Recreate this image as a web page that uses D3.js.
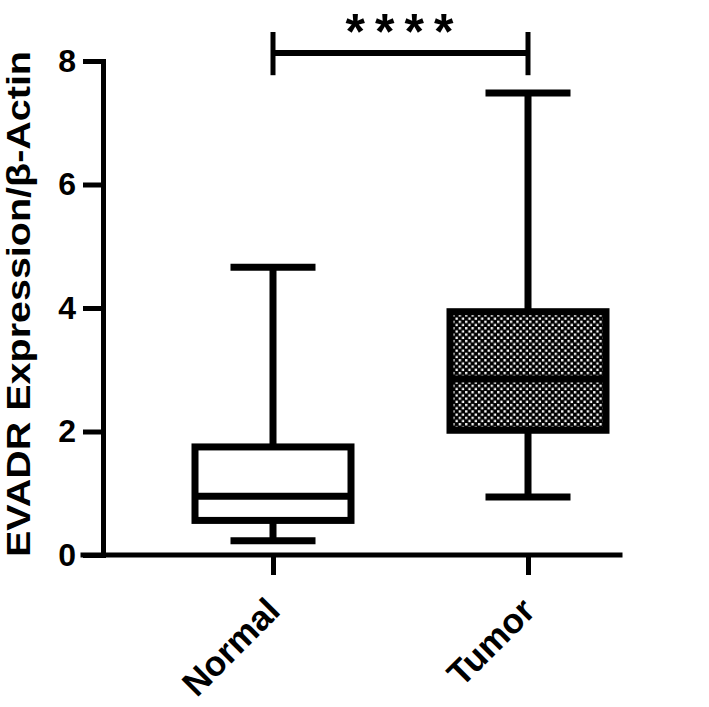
<!DOCTYPE html>
<html>
<head>
<meta charset="utf-8">
<script src="https://cdn.jsdelivr.net/npm/d3@7"></script>
<style>
  body { margin: 0; background: #fff; }
  svg { display: block; font-family: "Liberation Sans", Arial, sans-serif; font-weight: bold; }
</style>
</head>
<body>
<script>
// box plot values
var categories = ["Normal", "Tumor"];
var whiskerLow = [0.23, 0.94];
var q1 = [0.56, 2.02];
var median = [0.95, 2.85];
var q3 = [1.75, 3.94];
var whiskerHigh = [4.66, 7.48];
var fills = ["white", "checker"];
var yTicks = [0, 2, 4, 6, 8];
var yLabel = "EVADR Expression/\u03b2-Actin";
var sigText = "****";
var sigBar = { y: 8.13, top: 8.47, bottom: 7.77 };

var w = 709, h = 707;
var margin = { left: 103, top: 61 };
var plotH = 494, axisW = 517;

var svg = d3.select("body").append("svg")
  .attr("width", w)
  .attr("height", h);

var pat = svg.append("defs").append("pattern")
  .attr("id", "checker")
  .attr("patternUnits", "userSpaceOnUse")
  .attr("width", 6.4)
  .attr("height", 6.4);
pat.append("rect").attr("width", 6.4).attr("height", 6.4).attr("fill", "#000");
pat.append("rect").attr("x", 0.5).attr("y", 0.5).attr("width", 2.3).attr("height", 2.3).attr("fill", "#fff");
pat.append("rect").attr("x", 3.7).attr("y", 3.7).attr("width", 2.3).attr("height", 2.3).attr("fill", "#fff");

var g = svg.append("g")
  .attr("transform", "translate(" + margin.left + "," + margin.top + ")");

var x = d3.scalePoint()
  .domain(categories)
  .range([170, 425]);

var y = d3.scaleLinear()
  .domain([0, 8])
  .range([plotH, 0]);

var data = categories.map(function(c, i) {
  return { name: c, lo: whiskerLow[i], q1: q1[i], med: median[i], q3: q3[i], hi: whiskerHigh[i], fill: fills[i] };
});

// axes
var yAxis = g.append("g")
  .attr("class", "axis")
  .call(d3.axisLeft(y).tickValues(yTicks).tickSize(20).tickSizeOuter(0).tickPadding(7));

var xAxis = g.append("g")
  .attr("class", "axis")
  .attr("transform", "translate(0," + plotH + ")")
  .call(d3.axisBottom(x).tickSize(20).tickSizeOuter(0).tickFormat(""));
xAxis.select(".domain").attr("d", "M-20,0H" + axisW);

svg.selectAll(".axis path, .axis line")
  .attr("stroke", "#000")
  .attr("stroke-width", 5)
  .attr("stroke-linecap", "square");
svg.selectAll(".axis .tick line").attr("stroke-linecap", "butt");

yAxis.selectAll("text")
  .attr("fill", "#000")
  .style("font-size", "32px")
  .style("font-weight", "bold")
  .style("font-family", "'Liberation Sans', Arial, sans-serif");

// rotated category labels
g.selectAll(".xlab")
  .data(categories)
  .enter().append("text")
  .attr("class", "xlab")
  .attr("transform", function(d) { return "translate(" + x(d) + "," + (plotH + 49) + ") rotate(-45)"; })
  .attr("text-anchor", "end")
  .attr("dy", "0.36em")
  .style("font-size", "35px")
  .text(function(d) { return d; });

// y label
svg.append("text")
  .attr("transform", "translate(30," + (margin.top + plotH / 2 - 4) + ") rotate(-90)")
  .attr("text-anchor", "middle")
  .attr("textLength", 506)
  .attr("lengthAdjust", "spacingAndGlyphs")
  .style("font-size", "33px")
  .text(yLabel);

// boxes
var boxW = 156, capW = 85;
var box = g.selectAll(".box")
  .data(data)
  .enter().append("g")
  .attr("class", "box");

box.append("line")
  .attr("x1", function(d) { return x(d.name); })
  .attr("x2", function(d) { return x(d.name); })
  .attr("y1", function(d) { return y(d.hi); })
  .attr("y2", function(d) { return y(d.lo); })
  .attr("stroke", "#000").attr("stroke-width", 7);

box.selectAll(".cap")
  .data(function(d) { return [{ n: d.name, v: d.hi }, { n: d.name, v: d.lo }]; })
  .enter().append("line")
  .attr("x1", function(d) { return x(d.n) - capW / 2; })
  .attr("x2", function(d) { return x(d.n) + capW / 2; })
  .attr("y1", function(d) { return y(d.v); })
  .attr("y2", function(d) { return y(d.v); })
  .attr("stroke", "#000").attr("stroke-width", 7);

box.append("rect")
  .attr("x", function(d) { return x(d.name) - boxW / 2; })
  .attr("width", boxW)
  .attr("y", function(d) { return y(d.q3); })
  .attr("height", function(d) { return y(d.q1) - y(d.q3); })
  .attr("fill", function(d) { return d.fill == "checker" ? "url(#checker)" : "#fff"; })
  .attr("stroke", "#000").attr("stroke-width", 7);

box.append("line")
  .attr("x1", function(d) { return x(d.name) - boxW / 2; })
  .attr("x2", function(d) { return x(d.name) + boxW / 2; })
  .attr("y1", function(d) { return y(d.med); })
  .attr("y2", function(d) { return y(d.med); })
  .attr("stroke", "#000").attr("stroke-width", 7);

// significance bracket
var sx1 = x(categories[0]), sx2 = x(categories[1]);
var sig = g.append("g").attr("stroke", "#000").attr("stroke-width", 6);
sig.append("line").attr("x1", sx1).attr("x2", sx2).attr("y1", y(sigBar.y)).attr("y2", y(sigBar.y));
sig.append("line").attr("x1", sx1).attr("x2", sx1).attr("y1", y(sigBar.top)).attr("y2", y(sigBar.bottom)).attr("stroke-width", 5);
sig.append("line").attr("x1", sx2).attr("x2", sx2).attr("y1", y(sigBar.top)).attr("y2", y(sigBar.bottom)).attr("stroke-width", 5);

g.append("text")
  .attr("x", (sx1 + sx2) / 2 + 4)
  .attr("y", y(sigBar.y) - 4)
  .attr("text-anchor", "middle")
  .style("font-size", "50px")
  .style("letter-spacing", "10px")
  .text(sigText);
</script>
</body>
</html>
